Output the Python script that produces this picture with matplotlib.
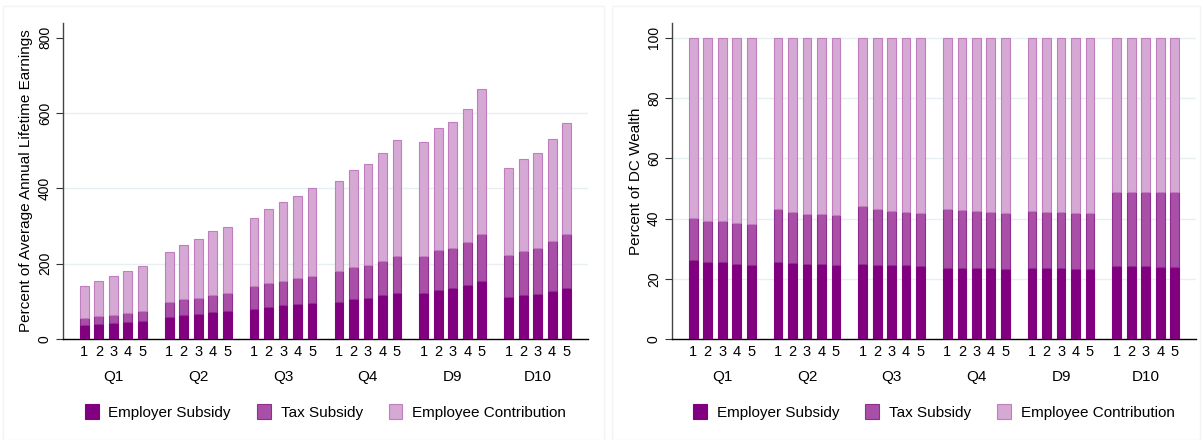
import matplotlib
matplotlib.use("Agg")
import matplotlib.pyplot as plt
import numpy as np
from matplotlib.patches import Rectangle

plt.rcParams['font.family'] = ['Liberation Sans', 'DejaVu Sans']

groups = ["Q1", "Q2", "Q3", "Q4", "D9", "D10"]
sub_labels = ["1", "2", "3", "4", "5"]
series_names = ["Employer Subsidy", "Tax Subsidy", "Employee Contribution"]

# Left panel: cumulative tops (percent of average annual lifetime earnings)
left_employer = [36, 39, 43, 45, 48,
                 59, 63, 67, 71, 74,
                 80, 86, 89, 94, 96,
                 99, 105, 108, 116, 123,
                 123, 131, 135, 143, 155,
                 111, 116, 120, 128, 135]
left_tax_top = [56, 61, 65, 70, 74,
                99, 106, 110, 117, 122,
                141, 149, 154, 161, 166,
                181, 191, 197, 208, 220,
                221, 236, 242, 258, 279,
                222, 233, 242, 260, 280]
left_total = [141, 154, 167, 180, 194,
              230, 250, 266, 286, 297,
              321, 345, 363, 381, 400,
              420, 449, 464, 494, 528,
              523, 560, 575, 612, 664,
              453, 477, 493, 530, 573]

# Right panel: cumulative tops (percent of DC wealth)
right_employer = [26.1, 25.4, 25.5, 24.8, 24.4,
                  25.6, 25.1, 24.9, 24.8, 24.6,
                  24.8, 24.6, 24.5, 24.5, 24.1,
                  23.6, 23.5, 23.5, 23.5, 23.4,
                  23.5, 23.5, 23.5, 23.3, 23.3,
                  24.1, 24.1, 24.1, 24.0, 23.8]
right_tax_top = [40.3, 39.3, 39.3, 38.6, 38.2,
                 43.2, 42.3, 41.6, 41.4, 41.2,
                 44.1, 43.1, 42.6, 42.3, 41.9,
                 43.2, 42.9, 42.5, 42.2, 41.9,
                 42.5, 42.3, 42.2, 41.9, 41.9,
                 48.9, 48.8, 48.9, 48.9, 48.8]
right_total = [100] * 30

fills = ['#800080', '#a94fa8', '#d6a9d5']
edges = ['#800080', '#8e2e8f', '#c27dc1']

G = 5.85
pos = np.array([g * G + i for g in range(len(groups)) for i in range(len(sub_labels))])
width = 0.6

W, H = 1203, 440
fig = plt.figure(figsize=(W / 100, H / 100), dpi=100)
fig.patch.set_facecolor('white')

# faint panel borders
for (x0, x1) in [(3, 604), (612, 1200)]:
    fig.patches.append(Rectangle((x0 / W, 0), (x1 - x0) / W, (H - 6) / H,
                                 transform=fig.transFigure, fill=False,
                                 edgecolor='#f4f4f4', lw=1.0))

ax_bottom = (H - 339) / H
ax_height = (339 - 22.7) / H
axL = fig.add_axes([63 / W, ax_bottom, (588 - 63) / W, ax_height])
axR = fig.add_axes([672 / W, ax_bottom, (1196 - 672) / W, ax_height])


def draw(ax, emp, tax_top, total, ylim, yticks, grid_ticks, ylabel, label_x):
    emp = np.array(emp, float)
    tax_top = np.array(tax_top, float)
    total = np.array(total, float)
    parts = [emp, tax_top - emp, total - tax_top]
    bottoms = [np.zeros_like(emp), emp, tax_top]
    handles = []
    for k in range(3):
        b = ax.bar(pos, parts[k], width, bottom=bottoms[k], color=fills[k],
                   edgecolor=edges[k], linewidth=0.8, label=series_names[k],
                   zorder=3)
        handles.append(b)
    ax.set_xlim(-1.47, pos[-1] + 1.47)
    ax.set_ylim(0, ylim)
    ax.set_yticks(yticks)
    ax.set_yticklabels([str(t) for t in yticks], rotation=90, va='center',
                       fontsize=10)
    for gt in grid_ticks:
        ax.axhline(gt, color='#e6eff1', lw=1.0, zorder=1)
    ax.tick_params(axis='y', length=5, width=0.8, pad=3, color='#333333')
    ax.set_xticks(pos)
    ax.set_xticklabels(sub_labels * len(groups), fontsize=10.5)
    ax.tick_params(axis='x', length=0, pad=4)
    for s in ['top', 'right']:
        ax.spines[s].set_visible(False)
    ax.spines['left'].set_color('#444444')
    ax.spines['left'].set_linewidth(1.0)
    ax.spines['bottom'].set_color('black')
    ax.spines['bottom'].set_linewidth(1.0)
    ax.set_ylabel(ylabel, fontsize=11)
    ax.yaxis.set_label_coords(label_x, 0.5)
    for g, name in enumerate(groups):
        ax.text(g * G + 2, -0.12, name, transform=ax.get_xaxis_transform(),
                ha='center', va='center', fontsize=11)
    leg = ax.legend(handles=handles, loc='center', bbox_to_anchor=(0.5, -0.231),
                    ncol=3, frameon=False, fontsize=11, handlelength=0.9,
                    handleheight=1.15, handletextpad=0.65, columnspacing=1.7)
    return leg


draw(axL, left_employer, left_tax_top, left_total, 840, [0, 200, 400, 600, 800],
     [200, 400, 600], "Percent of Average Annual Lifetime Earnings", -0.057)
draw(axR, right_employer, right_tax_top, right_total, 105, [0, 20, 40, 60, 80, 100],
     [20, 40, 60, 80, 100], "Percent of DC Wealth", -0.055)

fig.savefig("out.png", dpi=100, facecolor='white')
